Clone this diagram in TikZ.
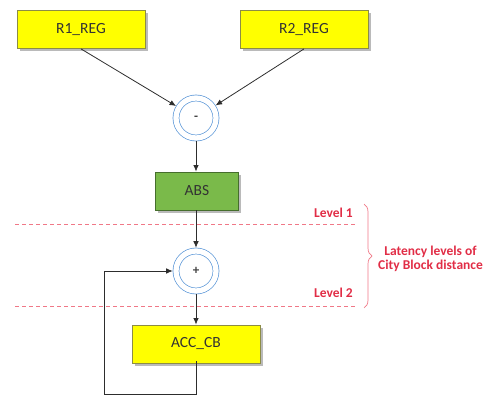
\documentclass[tikz,border=0pt]{standalone}
\usepackage{fontspec}
\setmainfont{Carlito}
\usetikzlibrary{arrows.meta,shadows,decorations.pathreplacing}

\definecolor{regfill}{RGB}{255,255,0}
\definecolor{regedge}{RGB}{140,140,70}
\definecolor{absfill}{RGB}{122,186,74}
\definecolor{absedge}{RGB}{70,110,45}
\definecolor{opblue}{RGB}{90,150,215}
\definecolor{wire}{RGB}{45,45,45}
\definecolor{lvlred}{RGB}{225,45,70}
\definecolor{lvldash}{RGB}{240,120,135}

\tikzset{
  regbox/.style={draw=regedge, fill=regfill, line width=0.8pt,
    minimum width=128pt, minimum height=38pt, inner sep=0pt,
    font=\fontsize{15.5}{16}\selectfont, text=black!80,
    drop shadow={shadow xshift=2.5pt, shadow yshift=-2.5pt, fill=black!45, opacity=0.6}},
  absbox/.style={regbox, draw=absedge, fill=absfill,
    minimum width=83pt},
  opnode/.style={circle, draw=opblue, double=white, double distance=5.3pt,
    line width=0.7pt, minimum size=40pt, inner sep=0pt, outer sep=3.3pt,
    font=\fontsize{13}{14}\selectfont\bfseries, text=black!75},
  wireline/.style={draw=wire, line width=0.8pt,
    -{Latex[length=6.5pt,width=5.5pt]}},
  lvlline/.style={draw=lvldash, line width=0.7pt, dash pattern=on 4pt off 3pt},
  lvltext/.style={text=lvlred, font=\fontsize{13.5}{13.5}\selectfont\bfseries, inner sep=0pt}
}

\begin{document}
\begin{tikzpicture}[x=1pt, y=-1pt]
  \useasboundingbox (0,0) rectangle (485,396);

  % register inputs and the subtractor
  \node[regbox] (r1) at (81,29.5) {R1\_REG};
  \node[regbox] (r2) at (304,29.5) {R2\_REG};
  \node[opnode] (sub) at (196,118) {-};
  \node[absbox] (abs) at (197,191) {ABS};

  % accumulation stage
  \node[opnode] (add) at (196,271) {+};
  \node[regbox] (acc) at (196,344) {ACC\_CB};
  \coordinate (fb) at (104,394);

  \draw[wireline] (r1.south) -- (sub);
  \draw[wireline] (r2.south) -- (sub);
  \draw[wireline] (sub.south) -- (sub.south |- abs.north);
  \draw[wireline] (abs.south -| add.north) -- (add.north);
  \draw[wireline] (add.south) -- (add.south |- acc.north);
  \draw[wireline, shorten <=-2pt] (acc.south) |- (fb) |- (add.west);

  % pipeline latency levels
  \coordinate (l1a) at (15,224);
  \coordinate (l1b) at (355,224);
  \coordinate (l2a) at (15,306);
  \coordinate (l2b) at (355,306);
  \draw[lvlline] (l1a) -- (l1b);
  \draw[lvlline] (l2a) -- (l2b);
  \node[lvltext, anchor=east] (lv1) at (353,213) {Level 1};
  \node[lvltext, anchor=east] (lv2) at (353,293) {Level 2};

  \coordinate (bt) at (364,204);
  \coordinate (bb) at (364,308);
  \draw[draw=lvldash, line width=0.7pt,
        decorate, decoration={brace, amplitude=8pt}] (bt) -- (bb);
  \node[lvltext, anchor=west, align=center] (lat) at (378,259)
    {Latency levels of\\City Block distance};
\end{tikzpicture}
\end{document}
